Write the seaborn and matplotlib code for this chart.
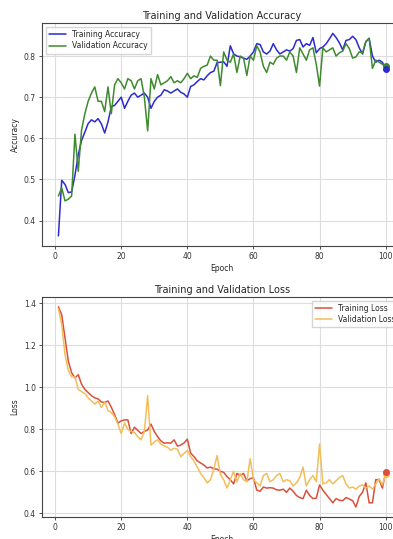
import numpy as np
import pandas as pd
import seaborn as sns
import matplotlib
matplotlib.use('Agg')
import matplotlib.pyplot as plt

epochs = list(range(1, 101))

train_acc = [
    0.363, 0.498, 0.488, 0.468, 0.470, 0.510, 0.560, 0.595, 0.615, 0.636,
    0.645, 0.640, 0.648, 0.635, 0.613, 0.640, 0.677, 0.680, 0.690, 0.700,
    0.673, 0.690, 0.705, 0.710, 0.700, 0.705, 0.710, 0.700, 0.673, 0.690,
    0.700, 0.705, 0.718, 0.715, 0.710, 0.715, 0.720, 0.712, 0.708, 0.700,
    0.726, 0.730, 0.738, 0.745, 0.742, 0.752, 0.760, 0.763, 0.784, 0.785,
    0.786, 0.775, 0.825, 0.805, 0.800, 0.798, 0.795, 0.792, 0.800, 0.810,
    0.830, 0.828, 0.810, 0.805, 0.812, 0.830, 0.815, 0.805, 0.810, 0.815,
    0.812, 0.818, 0.838, 0.840, 0.822, 0.830, 0.826, 0.845, 0.808, 0.818,
    0.822, 0.830, 0.842, 0.855, 0.845, 0.832, 0.815, 0.838, 0.840, 0.848,
    0.840, 0.820, 0.805, 0.835, 0.843, 0.800, 0.785, 0.790, 0.785, 0.768,
]
val_acc = [
    0.460, 0.480, 0.448, 0.452, 0.460, 0.610, 0.520, 0.620, 0.660, 0.690,
    0.710, 0.725, 0.690, 0.690, 0.665, 0.725, 0.660, 0.730, 0.745, 0.735,
    0.720, 0.745, 0.740, 0.720, 0.740, 0.745, 0.700, 0.618, 0.745, 0.720,
    0.755, 0.730, 0.735, 0.740, 0.750, 0.735, 0.740, 0.735, 0.745, 0.758,
    0.745, 0.752, 0.748, 0.770, 0.775, 0.778, 0.800, 0.790, 0.790, 0.728,
    0.810, 0.790, 0.785, 0.805, 0.760, 0.800, 0.795, 0.753, 0.800, 0.790,
    0.825, 0.810, 0.775, 0.760, 0.785, 0.780, 0.795, 0.800, 0.800, 0.790,
    0.810, 0.800, 0.760, 0.820, 0.805, 0.790, 0.815, 0.820, 0.780, 0.727,
    0.820, 0.810, 0.815, 0.820, 0.800, 0.808, 0.812, 0.830, 0.818, 0.795,
    0.798, 0.810, 0.808, 0.835, 0.843, 0.770, 0.790, 0.785, 0.780, 0.775,
]
train_loss = [
    1.384, 1.345, 1.235, 1.125, 1.070, 1.045, 1.060, 1.015, 0.990, 0.975,
    0.960, 0.950, 0.945, 0.930, 0.928, 0.935, 0.905, 0.870, 0.830, 0.840,
    0.845, 0.845, 0.780, 0.810, 0.795, 0.780, 0.790, 0.797, 0.825, 0.790,
    0.765, 0.745, 0.734, 0.736, 0.734, 0.750, 0.720, 0.725, 0.735, 0.753,
    0.687, 0.670, 0.650, 0.640, 0.630, 0.616, 0.620, 0.612, 0.610, 0.600,
    0.595, 0.575, 0.560, 0.540, 0.590, 0.580, 0.590, 0.555, 0.565, 0.570,
    0.510, 0.505, 0.525, 0.520, 0.522, 0.520, 0.512, 0.510, 0.515, 0.500,
    0.520, 0.505, 0.485, 0.475, 0.470, 0.510, 0.485, 0.470, 0.472, 0.535,
    0.510, 0.490, 0.470, 0.450, 0.470, 0.462, 0.460, 0.475, 0.468, 0.460,
    0.430, 0.480, 0.500, 0.545, 0.450, 0.450, 0.560, 0.560, 0.520, 0.595,
]
val_loss = [
    1.376, 1.300, 1.155, 1.080, 1.050, 1.050, 0.990, 0.980, 0.970, 0.950,
    0.935, 0.920, 0.935, 0.904, 0.930, 0.890, 0.880, 0.860, 0.825, 0.780,
    0.830, 0.800, 0.790, 0.785, 0.765, 0.750, 0.790, 0.960, 0.725, 0.740,
    0.750, 0.730, 0.720, 0.715, 0.700, 0.710, 0.705, 0.670, 0.685, 0.700,
    0.670, 0.650, 0.620, 0.590, 0.570, 0.545, 0.560, 0.610, 0.675, 0.585,
    0.560, 0.520, 0.560, 0.600, 0.550, 0.590, 0.560, 0.550, 0.660, 0.560,
    0.545, 0.530, 0.580, 0.590, 0.550, 0.560, 0.580, 0.590, 0.550, 0.560,
    0.555, 0.530, 0.545, 0.570, 0.620, 0.530, 0.560, 0.580, 0.550, 0.730,
    0.540, 0.545, 0.560, 0.540, 0.555, 0.570, 0.580, 0.540, 0.520, 0.525,
    0.515, 0.530, 0.535, 0.520, 0.530, 0.515, 0.540, 0.565, 0.535, 0.585,
]

sns.set_style('ticks')
plt.rcParams['font.family'] = ['DejaVu Sans']

fig = plt.figure(figsize=(3.93, 5.39), dpi=100)
ax1 = fig.add_axes([0.107, 0.5436, 0.916, 0.4132])
ax2 = fig.add_axes([0.107, 0.0408, 0.916, 0.4087])


def plot(ax, y1, y2, c1, c2, l1, l2, title, ylabel, loc):
    df = pd.DataFrame({'Epoch': epochs, l1: y1, l2: y2})
    sns.lineplot(data=df, x='Epoch', y=l1, ax=ax, color=c1, linewidth=1.1, label=l1)
    sns.lineplot(data=df, x='Epoch', y=l2, ax=ax, color=c2, linewidth=1.1, label=l2)
    ax.scatter([epochs[-1]], [y2[-1]], color=c2, s=16, zorder=3)
    ax.scatter([epochs[-1]], [y1[-1]], color=c1, s=16, zorder=3)
    ax.set_title(title, fontsize=7, pad=3)
    ax.set_xlabel('Epoch', fontsize=5.5, labelpad=2)
    ax.set_ylabel(ylabel, fontsize=5.5, labelpad=3)
    ax.tick_params(labelsize=5.5, length=2.5, width=0.6, pad=2, colors='#333333')
    ax.grid(True, color='#dddddd', linewidth=0.8)
    ax.set_xticks([0, 20, 40, 60, 80, 100])
    for s in ax.spines.values():
        s.set_linewidth(0.8)
        s.set_color('#444444')
    ax.legend(loc=loc, fontsize=5.5, frameon=True, handlelength=2.2,
              borderpad=0.4, labelspacing=0.3, fancybox=False, edgecolor='#cccccc')


plot(ax1, train_acc, val_acc, '#2b2bd0', '#3f8a2e', 'Training Accuracy', 'Validation Accuracy',
     'Training and Validation Accuracy', 'Accuracy', 'upper left')
plot(ax2, train_loss, val_loss, '#d9503c', '#f2be5a', 'Training Loss', 'Validation Loss',
     'Training and Validation Loss', 'Loss', 'upper right')

fig.savefig('out.png', dpi=100)
